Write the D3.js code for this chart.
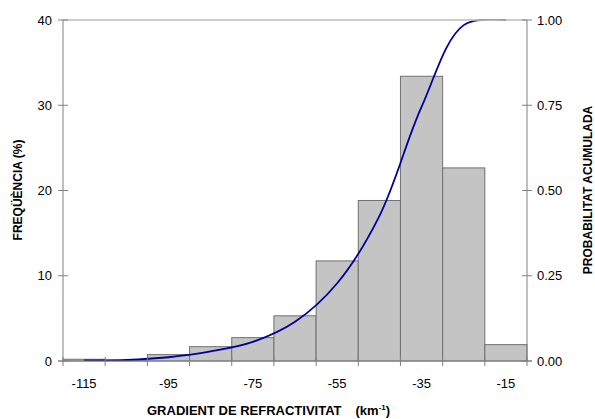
<!DOCTYPE html>
<html>
<head>
<meta charset="utf-8">
<script src="https://cdn.jsdelivr.net/npm/d3@7"></script>
<style>
  body { margin: 0; background: #fff; }
  text { font-family: "Liberation Sans", Arial, sans-serif; }
</style>
</head>
<body>
<div id="graph"></div>
<script>
// bin centres (km-1), bin width 10
let binCenters = [-115, -105, -95, -85, -75, -65, -55, -45, -35, -25, -15];
let frequency = [0.2, 0.05, 0.75, 1.68, 2.74, 5.3, 11.74, 18.83, 33.4, 22.65, 1.92];
let cumulative = [0.002, 0.003, 0.011, 0.028, 0.056, 0.115, 0.228, 0.425, 0.745, 0.985, 1.0];
let xTickLabels = [-115, -95, -75, -55, -35, -15];
let leftTicks = [0, 10, 20, 30, 40];
let rightTicks = [0, 0.25, 0.5, 0.75, 1];

let svgWidth = 595, svgHeight = 419;
let margin = { top: 20, right: 68, bottom: 58, left: 63 };
let width = svgWidth - margin.left - margin.right;
let height = svgHeight - margin.top - margin.bottom;

let svg = d3.select("#graph").append("svg")
  .attr("width", svgWidth)
  .attr("height", svgHeight);
let g = svg.append("g")
  .attr("transform", `translate(${margin.left},${margin.top})`);

svg.append("defs").append("clipPath").attr("id", "plotClip")
  .append("rect").attr("x", 0).attr("y", -1).attr("width", width).attr("height", height + 1);

let xScale = d3.scaleLinear().domain([-120, -10]).range([0, width]);
let yScale = d3.scaleLinear().domain([0, 40]).range([height, 0]);
let pScale = d3.scaleLinear().domain([0, 1]).range([height, 0]);

// bars
g.selectAll("rect.bar")
  .data(binCenters)
  .enter().append("rect")
  .attr("class", "bar")
  .attr("x", d => xScale(d - 5))
  .attr("width", d => xScale(d + 5) - xScale(d - 5))
  .attr("y", (d, i) => yScale(frequency[i]))
  .attr("height", (d, i) => height - yScale(frequency[i]))
  .style("fill", "#c4c4c4")
  .style("stroke", "#707070")
  .style("stroke-width", 1);

// cumulative curve (smoothed like the spreadsheet line)
let line = d3.line()
  .x((d, i) => xScale(binCenters[i]))
  .y(d => pScale(d))
  .curve(d3.curveCatmullRom.alpha(0.5));
g.append("path")
  .datum(cumulative)
  .attr("d", line)
  .attr("clip-path", "url(#plotClip)")
  .style("fill", "none")
  .style("stroke", "#000099")
  .style("stroke-width", 1.8);

// top frame line
g.append("line")
  .attr("x1", 0).attr("x2", width)
  .attr("y1", 0).attr("y2", 0)
  .style("stroke", "#c0c0c0").style("stroke-width", 2)
  .style("opacity", 0.8);

// axes
let axisColor = "#808080";
let leftAxis = g.append("g");
leftAxis.append("line")
  .attr("x1", 0).attr("x2", 0).attr("y1", 0).attr("y2", height)
  .style("stroke", axisColor);
leftAxis.selectAll("g.tick")
  .data(leftTicks)
  .enter().append("g")
  .attr("transform", d => `translate(0,${yScale(d)})`)
  .each(function (d) {
    let t = d3.select(this);
    t.append("line").attr("x1", -5).attr("x2", 5).style("stroke", axisColor);
    t.append("text").attr("x", -11).attr("dy", "0.35em")
      .style("text-anchor", "end").style("font-size", "13px").text(d);
  });

let rightAxis = g.append("g").attr("transform", `translate(${width},0)`);
rightAxis.append("line")
  .attr("x1", 0).attr("x2", 0).attr("y1", 0).attr("y2", height)
  .style("stroke", axisColor);
rightAxis.selectAll("g.tick")
  .data(rightTicks)
  .enter().append("g")
  .attr("transform", d => `translate(0,${pScale(d)})`)
  .each(function (d) {
    let t = d3.select(this);
    t.append("line").attr("x1", -5).attr("x2", 5).style("stroke", axisColor);
    t.append("text").attr("x", 10).attr("dy", "0.35em")
      .style("text-anchor", "start").style("font-size", "13px").text(d3.format(".2f")(d));
  });

let bottomAxis = g.append("g").attr("transform", `translate(0,${height})`);
bottomAxis.append("line")
  .attr("x1", -5).attr("x2", width + 5)
  .style("stroke", axisColor);
let edges = binCenters.map(d => d - 5).concat([-10]);
bottomAxis.selectAll("line.tick")
  .data(edges)
  .enter().append("line")
  .attr("class", "tick")
  .attr("x1", d => xScale(d)).attr("x2", d => xScale(d))
  .attr("y1", -4).attr("y2", 5)
  .style("stroke", axisColor);
bottomAxis.selectAll("text.lbl")
  .data(xTickLabels)
  .enter().append("text")
  .attr("class", "lbl")
  .attr("x", d => xScale(d))
  .attr("y", 27)
  .style("text-anchor", "middle")
  .style("font-size", "13px")
  .text(d => d);

// titles
let xTitle = svg.append("text")
  .attr("x", 147).attr("y", 415)
  .style("text-anchor", "start")
  .style("font-size", "13px").style("font-weight", "bold");
xTitle.append("tspan").text("GRADIENT DE REFRACTIVITAT");
xTitle.append("tspan").attr("dx", 14).text("(km");
xTitle.append("tspan").attr("dy", -5).style("font-size", "8px").text("-1");
xTitle.append("tspan").attr("dy", 5).text(")");

svg.append("text")
  .attr("transform", "translate(22,190) rotate(-90)")
  .style("text-anchor", "middle")
  .style("font-size", "12px").style("font-weight", "bold")
  .text("FREQÜÈNCIA (%)");

svg.append("text")
  .attr("transform", "translate(592,190) rotate(-90)")
  .style("text-anchor", "middle")
  .style("font-size", "12px").style("font-weight", "bold")
  .text("PROBABILITAT ACUMULADA");
</script>
</body>
</html>
